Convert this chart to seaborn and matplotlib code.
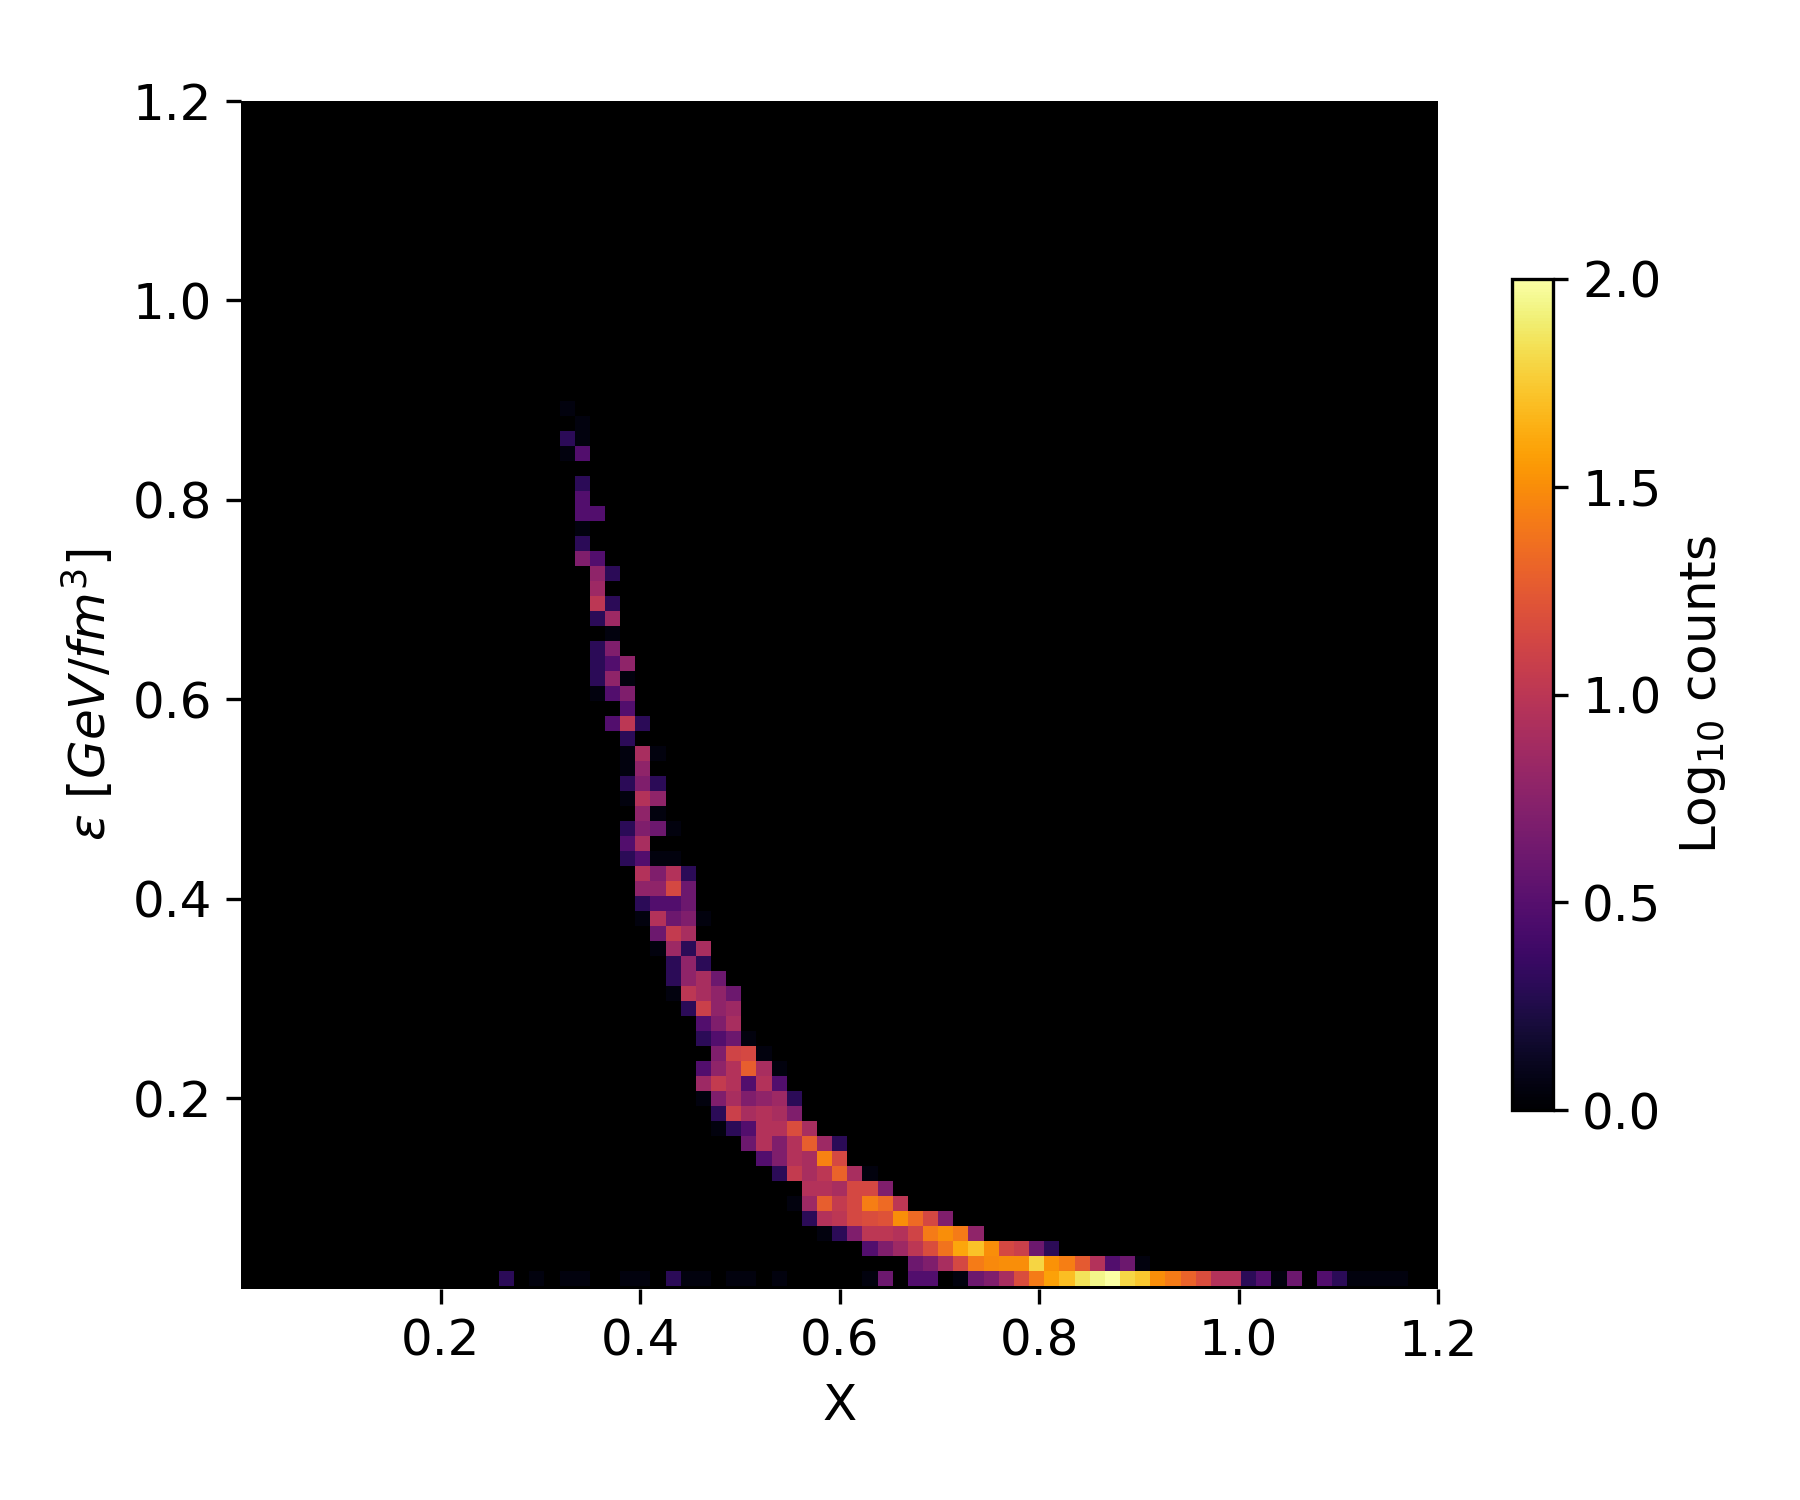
import numpy as np
import seaborn as sns
import matplotlib.pyplot as plt

plt.rcParams['font.size'] = 12

# bin edges of the 2d histogram
n_bins = 79
x_min, x_max = 0.0, 1.2
y_min, y_max = 0.012, 1.2
y_bottom = 0.009

upper_rows = [58, 57, 56, 55, 53, 52, 51, 50, 49, 48, 47, 46, 45, 44, 43, 42, 41, 40, 39]
upper_start = [21, 22, 21, 21, 22, 22, 22, 22, 22, 22, 23, 23, 23, 23, 24, 23, 23, 23, 23]
upper_counts = [[1], [1], [2, 1], [1, 3], [2], [3], [3, 3], [1], [2], [5, 3], [6, 2], [7],
                [10, 2], [2, 7], [1], [2, 5], [2, 3, 6], [2, 6, 1], [1, 3, 5]]

middle_rows = [38, 37, 36, 35, 34, 33, 32, 31, 30, 29, 28, 27, 26, 25, 24, 23, 22, 21, 20, 19]
middle_start = [25, 24, 25, 25, 25, 25, 25, 26, 25, 25, 25, 26, 26, 26, 26, 27, 27, 28, 28, 28]
middle_counts = [[3], [3, 10, 2], [2], [1, 8, 1], [1, 6], [2, 5, 2], [1, 9, 6], [6, 1],
                 [2, 5, 4, 1], [3, 8], [2, 3, 1, 1], [9, 5, 9, 2], [6, 6, 14, 4], [2, 3, 3, 4],
                 [1, 9, 4, 5, 1], [4, 11, 8], [1, 7, 2, 8], [2, 6, 2], [2, 6, 8, 4],
                 [1, 10, 8, 6, 4]]

lower_rows = [18, 17, 16, 15, 14, 13, 12, 11, 10, 9, 8, 7, 6]
lower_start = [29, 30, 30, 31, 30, 30, 30, 31, 31, 33, 34, 35, 37]
lower_counts = [[2, 12, 6, 7], [3, 5, 8], [2, 3, 4, 1], [5, 13, 14, 1], [3, 6, 9, 19, 8, 1],
                [7, 11, 9, 3, 9, 3], [1, 5, 8, 5, 6, 7, 2], [2, 12, 8, 9, 8, 5],
                [1, 2, 3, 9, 9, 15, 8], [4, 9, 5, 9, 19, 7, 2], [3, 5, 9, 8, 28, 14],
                [2, 11, 8, 10, 20, 8, 1], [9, 9, 8, 14, 14, 5]]

tail_rows = [5, 4, 3, 2, 1, 0]
tail_start = [36, 37, 38, 41, 44, 17]
tail_counts = [[1, 7, 19, 11, 14, 27, 22, 10],
               [2, 9, 10, 14, 15, 16, 32, 22, 14, 5],
               [1, 2, 5, 10, 10, 9, 13, 26, 32, 26, 6],
               [3, 5, 7, 10, 15, 24, 40, 52, 32, 14, 12, 4, 2],
               [4, 5, 8, 14, 26, 30, 32, 32, 62, 33, 27, 18, 9, 3, 4, 1],
               [2, 0, 1, 0, 1, 1, 0, 0, 1, 1, 0, 2, 1, 1, 0, 1, 1, 0, 1, 0, 0, 0, 0, 0, 1, 4, 0,
                3, 3, 0, 1, 4, 5, 8, 15, 26, 38, 50, 70, 88, 100, 63, 55, 32, 26, 20, 15, 9, 9,
                2, 3, 1, 4, 0, 3, 2, 1, 1, 1, 1]]

x_ticks = [0.2, 0.4, 0.6, 0.8, 1.0, 1.2]
y_ticks = [0.2, 0.4, 0.6, 0.8, 1.0, 1.2]
cbar_ticks = [0.0, 0.5, 1.0, 1.5, 2.0]

# fill the histogram
hist = np.zeros((n_bins, n_bins))
for rows, starts, counts in [(upper_rows, upper_start, upper_counts),
                             (middle_rows, middle_start, middle_counts),
                             (lower_rows, lower_start, lower_counts),
                             (tail_rows, tail_start, tail_counts)]:
    for r, s, vals in zip(rows, starts, counts):
        hist[r, s:s + len(vals)] = vals

empty = hist == 0
# single counts sit just above the bottom of the colour scale
log_hist = np.clip(np.log10(np.where(empty, 1, hist)), 0.05, None)

x_width = (x_max - x_min) / n_bins
y_width = (y_max - y_min) / n_bins

fig = plt.figure(figsize=(6, 5), dpi=300)
ax = fig.add_axes([241.5 / 1800, 1 - 1288.5 / 1500, 1196.5 / 1800, 1187.5 / 1500])
cax = fig.add_axes([1512 / 1800, 1 - 1110 / 1500, 41 / 1800, 831 / 1500])

sns.heatmap(log_hist, mask=empty, cmap='inferno', vmin=0, vmax=2, ax=ax, cbar_ax=cax,
            xticklabels=False, yticklabels=False)
ax.set_facecolor('black')
ax.set_xlim(0, n_bins)
ax.set_ylim((y_bottom - y_min) / y_width, n_bins)
ax.set_xticks([(t - x_min) / x_width for t in x_ticks], [f'{t:.1f}' for t in x_ticks])
ax.set_yticks([(t - y_min) / y_width for t in y_ticks], [f'{t:.1f}' for t in y_ticks])
ax.set_xlabel('X')
ax.set_ylabel(r'$\epsilon$ [$GeV/fm^3$]')
for s in ax.spines.values():
    s.set_visible(False)

cbar = ax.collections[0].colorbar
cbar.outline.set_visible(True)
cbar.outline.set_linewidth(0.8)
cbar.set_ticks(cbar_ticks, labels=[f'{t:.1f}' for t in cbar_ticks])
cbar.ax.tick_params(length=3.5, width=0.8)
cbar.set_label(r'Log$_{10}$ counts')

fig.savefig('out.png', dpi=300)
